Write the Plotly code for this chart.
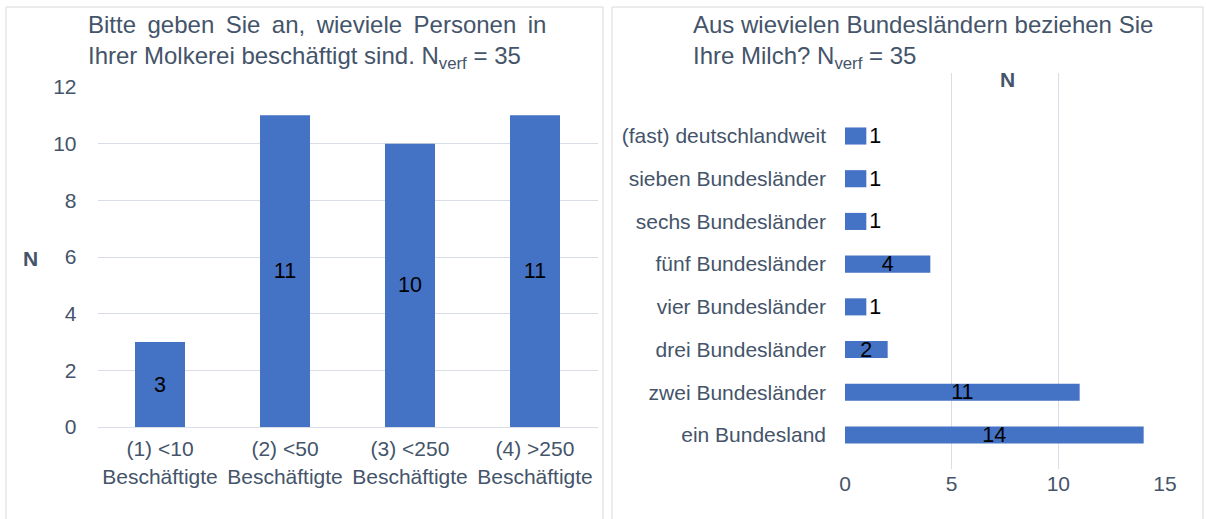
import plotly.graph_objects as go

# ---------------- data ----------------
emp_categories = ["(1) &lt;10<br>Beschäftigte", "(2) &lt;50<br>Beschäftigte",
                  "(3) &lt;250<br>Beschäftigte", "(4) &gt;250<br>Beschäftigte"]
emp_values = [3, 11, 10, 11]

# bottom-to-top order
state_categories = ["ein Bundesland", "zwei Bundesländer", "drei Bundesländer",
                    "vier Bundesländer", "fünf Bundesländer", "sechs Bundesländer",
                    "sieben Bundesländer", "(fast) deutschlandweit"]
state_values = [14, 11, 2, 1, 4, 1, 1, 1]

GAP = "\u00a0\u2009"  # widened word gap to imitate justified text
left_title = (GAP.join(["Bitte", "geben", "Sie", "an,", "wieviele", "Personen", "in"])
              + "<br>Ihrer Molkerei beschäftigt sind. N<sub>verf</sub> = 35")
right_title = "Aus wievielen Bundesländern beziehen Sie<br>Ihre Milch? N<sub>verf</sub> = 35"

# ---------------- style ----------------
W, H = 1206, 519
FONT = "Liberation Sans, Arial, sans-serif"
TXT = "#44546A"
GRID = "#D9DEE6"
BAR = "#4472C4"


def px(x):
    return x / W


def py(y):
    return 1 - y / H


fig = go.Figure()

fig.add_trace(go.Bar(
    x=emp_categories, y=emp_values, xaxis="x", yaxis="y",
    marker=dict(color=BAR, line=dict(width=0)), width=0.4,
    text=[str(v) for v in emp_values], textposition="inside",
    insidetextanchor="middle", textangle=0,
    textfont=dict(family=FONT, size=21.5, color="black"),
    showlegend=False, hoverinfo="skip",
))

state_pos = ["outside" if v < 2 else "inside" for v in state_values]
fig.add_trace(go.Bar(
    x=state_values, y=state_categories, orientation="h", xaxis="x2", yaxis="y2",
    marker=dict(color=BAR, line=dict(width=0)), width=0.4,
    text=[str(v) for v in state_values], textposition=state_pos,
    insidetextanchor="middle", textangle=0, cliponaxis=False,
    textfont=dict(family=FONT, size=21.5, color="black"),
    showlegend=False, hoverinfo="skip",
))

tickfont = dict(family=FONT, size=21, color=TXT)

fig.update_layout(
    template="none",
    width=W, height=H, autosize=False,
    margin=dict(l=0, r=0, t=0, b=0, pad=0, autoexpand=False),
    paper_bgcolor="white", plot_bgcolor="white",
    font=dict(family=FONT, color=TXT),
    uniformtext=dict(mode="show", minsize=21.5),
    xaxis=dict(domain=[px(97.5), px(597.5)], type="category",
               categoryorder="array", categoryarray=emp_categories,
               range=[-0.5, 3.5], showgrid=False, showline=True,
               linecolor=GRID, linewidth=1, ticks="", tickfont=tickfont,
               ticklabelstandoff=3, fixedrange=True, automargin=False),
    yaxis=dict(domain=[py(427), py(87)], range=[0, 12], dtick=2,
               showgrid=True, gridcolor=GRID, gridwidth=1, zeroline=False,
               showline=False, ticks="", tickfont=tickfont,
               ticklabelstandoff=20, fixedrange=True, automargin=False),
    xaxis2=dict(domain=[px(845), px(1165)], range=[0, 15], dtick=5,
                showgrid=True, gridcolor=GRID, gridwidth=1, zeroline=False,
                showline=False, ticks="", tickfont=tickfont,
                ticklabelstandoff=0, anchor="y2", fixedrange=True, automargin=False),
    yaxis2=dict(domain=[py(469), py(73)], type="category",
                categoryorder="array", categoryarray=state_categories,
                range=[-0.796, 8.475], showgrid=False, zeroline=False,
                showline=False, ticks="", tickfont=tickfont,
                ticklabelstandoff=18, anchor="x2", fixedrange=True, automargin=False),
)

annotations = [
    dict(text=left_title, x=px(86), y=py(9), xref="paper", yref="paper",
         xanchor="left", yanchor="top", align="left", showarrow=False,
         font=dict(family=FONT, size=24, color=TXT)),
    dict(text=right_title, x=px(691), y=py(9), xref="paper", yref="paper",
         xanchor="left", yanchor="top", align="left", showarrow=False,
         font=dict(family=FONT, size=24, color=TXT)),
    dict(text="<b>N</b>", x=px(30), y=py(258), xref="paper", yref="paper",
         xanchor="center", yanchor="middle", showarrow=False,
         font=dict(family=FONT, size=21, color=TXT)),
    dict(text="<b>N</b>", x=px(1007), y=py(79), xref="paper", yref="paper",
         xanchor="center", yanchor="middle", showarrow=False,
         font=dict(family=FONT, size=21, color=TXT)),
]
fig.update_layout(annotations=annotations)

border = dict(color="#D9D9D9", width=1)
fig.update_layout(shapes=[
    dict(type="rect", xref="paper", yref="paper", x0=px(6), x1=px(603),
         y0=-0.1, y1=py(7), line=border, fillcolor="rgba(0,0,0,0)", layer="below"),
    dict(type="rect", xref="paper", yref="paper", x0=px(612), x1=px(1203),
         y0=-0.1, y1=py(7), line=border, fillcolor="rgba(0,0,0,0)", layer="below"),
])

fig.write_html("out.html",
               config={"responsive": False, "displayModeBar": False},
               post_script="document.body.style.margin='0';")
